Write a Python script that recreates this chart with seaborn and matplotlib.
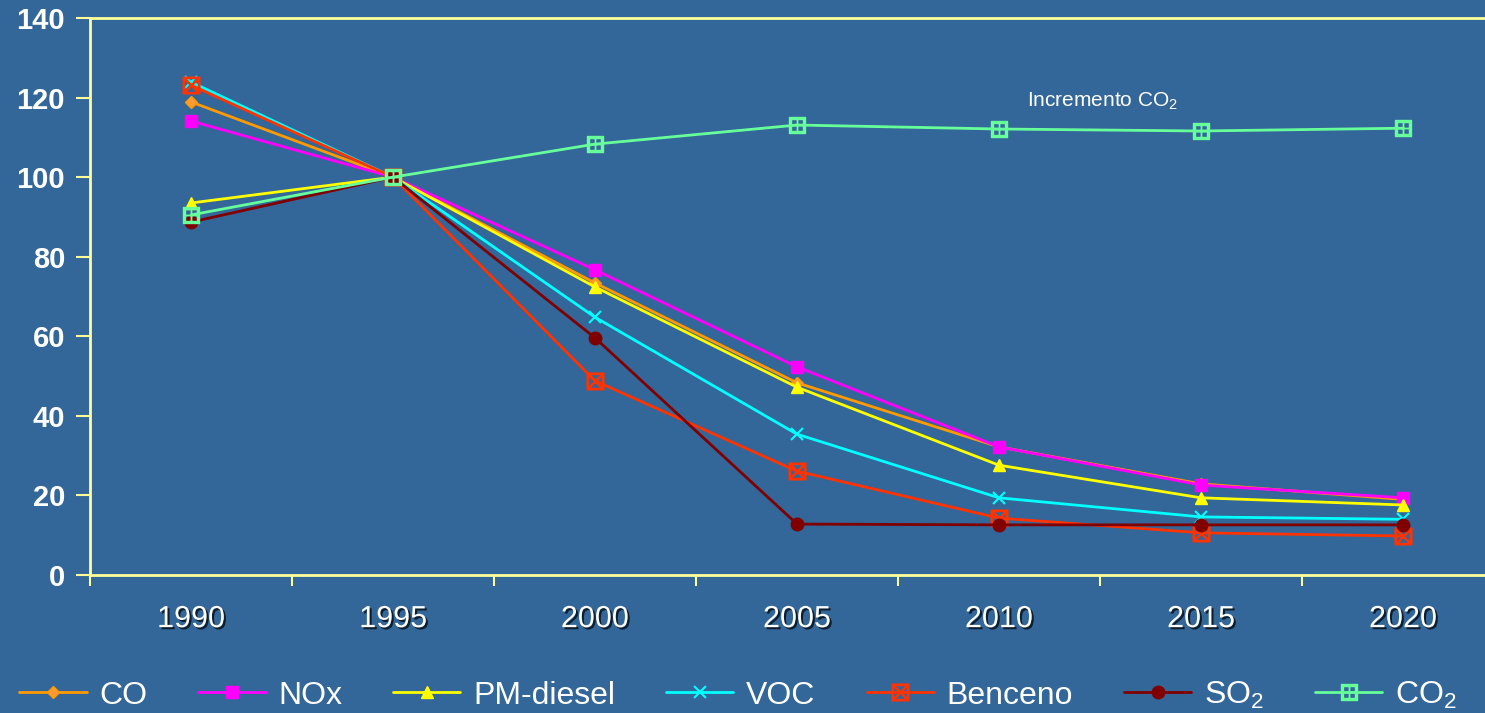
import numpy as np
import pandas as pd
import matplotlib
matplotlib.use("Agg")
import matplotlib.pyplot as plt
import matplotlib.patheffects as pe
import seaborn as sns

years = [1990, 1995, 2000, 2005, 2010, 2015, 2020]
co = [118.9, 100, 73.4, 48.3, 32.2, 22.9, 19.0]
nox = [114.1, 100, 76.7, 52.3, 32.2, 22.6, 19.4]
pm_diesel = [93.5, 100, 72.4, 47.2, 27.6, 19.4, 17.6]
voc = [123.9, 100, 64.8, 35.4, 19.4, 14.6, 14.0]
benceno = [123.1, 100, 48.8, 26.1, 14.3, 10.6, 9.8]
so2 = [88.7, 100, 59.6, 12.8, 12.6, 12.6, 12.6]
co2 = [90.5, 100, 108.3, 113.1, 112.1, 111.6, 112.3]
series_names = ["CO", "NOx", "PM-diesel", "VOC", "Benceno", "SO$_2$", "CO$_2$"]
y_ticks = [0, 20, 40, 60, 80, 100, 120, 140]
annotation = "Incremento CO$_2$"

sns.set_style("white")
plt.rcParams['font.family'] = ['Liberation Sans', 'DejaVu Sans']
plt.rcParams['mathtext.default'] = 'regular'

BG = '#336699'
SPINE = '#FFFF99'

fig = plt.figure(figsize=(14.85, 7.13), dpi=100, facecolor=BG)
ax = fig.add_axes([90/1485, 1-575/713, 1414/1485, (575-18)/713])
ax.set_facecolor(BG)

styles = [
    dict(color='#FF9900', marker='D', markersize=6, mfc='#FF9933'),
    dict(color='#FF00FF', marker='s', markersize=9, mfc='#FF00FF'),
    dict(color='#FFFF00', marker='^', markersize=9, mfc='#FFFF00'),
    dict(color='#00FFFF', marker='x', markersize=9, mfc='#00FFFF'),
    dict(color='#FF3300', marker=r'$\boxtimes$', markersize=12, mfc='#FF3300'),
    dict(color='#800000', marker='o', markersize=9, mfc='#800000'),
    dict(color='#66FF99', marker=r'$\boxplus$', markersize=11, mfc='#66FF99'),
]
data = [co, nox, pm_diesel, voc, benceno, so2, co2]

for name, vals, st in zip(series_names, data, styles):
    df = pd.DataFrame({"year": years, "value": vals})
    sns.lineplot(data=df, x="year", y="value", ax=ax, color=st['color'],
                 marker=st['marker'], markersize=st['markersize'],
                 markerfacecolor=st['mfc'], markeredgecolor=st['color'],
                 markeredgewidth=1.5 if st['marker'] in ('x',) else 1.0,
                 linewidth=2, label=name, sort=False, legend=True)

ax.set_xlim(1987.5, 2022.5)
ax.set_ylim(0, 140)
ax.set_xlabel("")
ax.set_ylabel("")

for s in ['left', 'bottom', 'top']:
    ax.spines[s].set_color(SPINE)
    ax.spines[s].set_linewidth(2)
    ax.spines[s].set_visible(True)
ax.spines['right'].set_visible(False)

ax.set_yticks(y_ticks)
ax.set_yticklabels([str(v) for v in y_ticks], fontsize=21, fontweight='bold', color='white')
ax.tick_params(axis='y', which='major', length=10, width=1.5, color=SPINE, direction='out', left=True, pad=8)

edges = np.arange(1987.5, 2023, 5)
ax.set_xticks(edges)
ax.set_xticklabels([''] * len(edges))
ax.set_xticks(years, minor=True)
ax.set_xticklabels([str(y) for y in years], minor=True, fontsize=22, color='white')
ax.tick_params(axis='x', which='major', length=8, width=1.5, color=SPINE, direction='out', bottom=True)
ax.tick_params(axis='x', which='minor', length=0, pad=21)
for lab in ax.get_xticklabels(minor=True):
    lab.set_path_effects([pe.SimplePatchShadow(offset=(1.5, -1.5), shadow_rgbFace='black', alpha=0.7), pe.Normal()])

ax.text(2010.7, 119, annotation, fontsize=15, color='white', va='center', ha='left')

handles, labels = ax.get_legend_handles_labels()
if ax.get_legend() is not None:
    ax.get_legend().remove()
leg = fig.legend(handles, labels, loc='lower center', bbox_to_anchor=(0.497, -0.037), ncol=7,
                 frameon=False, fontsize=23, handlelength=2.1, handletextpad=0.4,
                 columnspacing=1.6, labelcolor='white')

fig.savefig("out.png", dpi=100, facecolor=BG)
